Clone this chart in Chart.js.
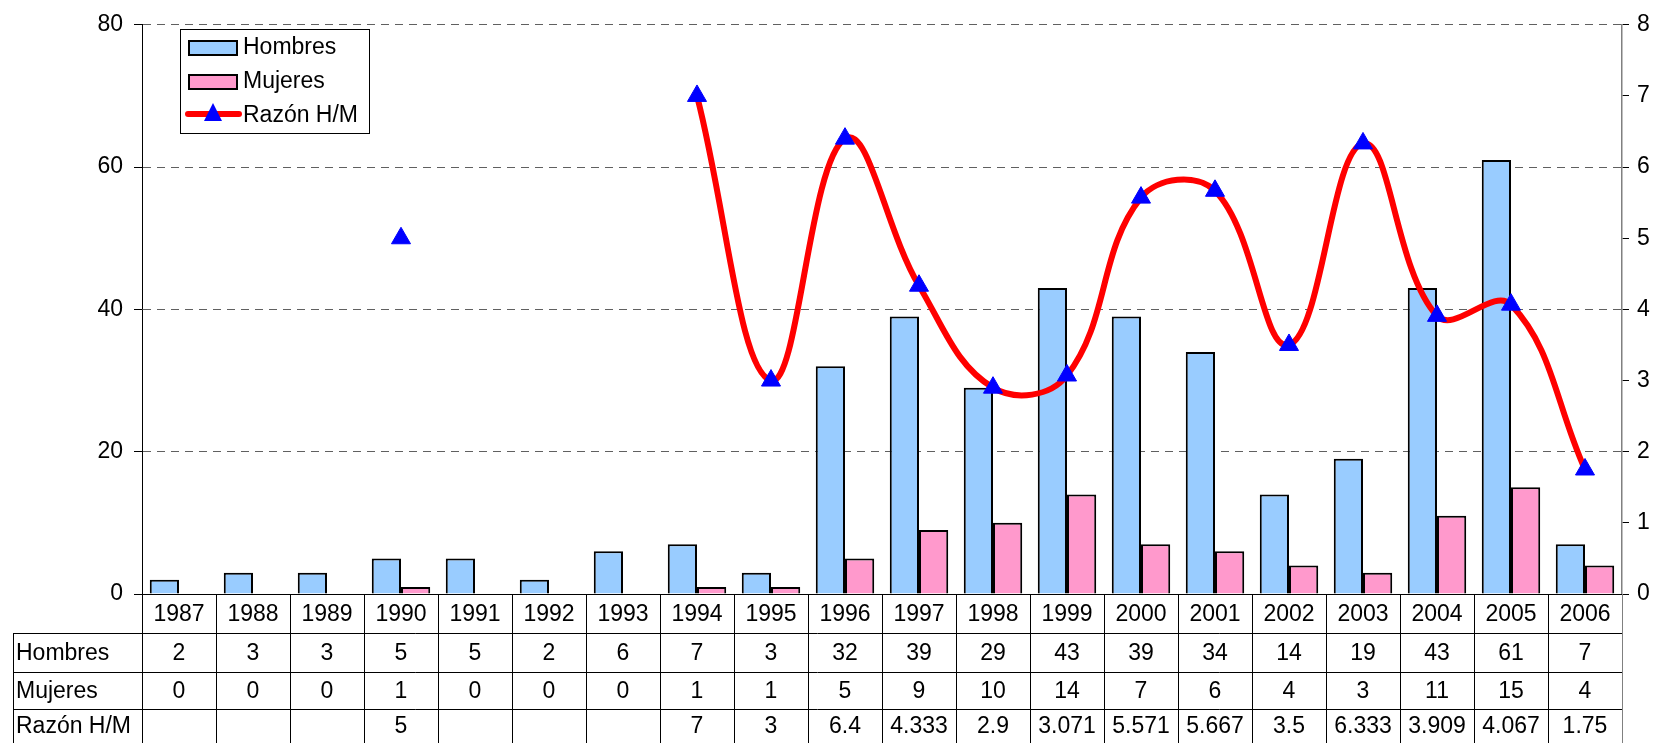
<!DOCTYPE html>
<html>
<head>
<meta charset="utf-8">
<script src="https://cdn.jsdelivr.net/npm/chart.js@4/dist/chart.umd.min.js"></script>
<style>
  html, body { margin: 0; padding: 0; background: #fff; }
  canvas { display: block; }
</style>
</head>
<body>
<canvas id="chart" width="1657" height="743"></canvas>
<script>
const years = ['1987', '1988', '1989', '1990', '1991', '1992', '1993', '1994', '1995', '1996',
  '1997', '1998', '1999', '2000', '2001', '2002', '2003', '2004', '2005', '2006'];
const hombres = [2, 3, 3, 5, 5, 2, 6, 7, 3, 32, 39, 29, 43, 39, 34, 14, 19, 43, 61, 7];
const mujeres = [0, 0, 0, 1, 0, 0, 0, 1, 1, 5, 9, 10, 14, 7, 6, 4, 3, 11, 15, 4];
const razon = [null, null, null, 5, null, null, null, 7, 3, 6.4, 4.333, 2.9, 3.071, 5.571, 5.667, 3.5, 6.333, 3.909, 4.067, 1.75];

const FONT = '"Liberation Sans", Arial, sans-serif';
const BLUE = '#99CCFF';
const PINK = '#FF99CC';

// data table under the plot + legend box
const tablePlugin = {
  id: 'table',
  afterDraw(chart) {
    const ctx = chart.ctx;
    const area = chart.chartArea;
    const x = chart.scales.x;
    const cw = (area.right - area.left) / years.length;
    const rows = [area.bottom, 633, 672, 709, 743];
    const labelLeft = 13;

    ctx.save();
    ctx.strokeStyle = '#000';
    ctx.lineWidth = 1;
    // horizontal lines
    ctx.beginPath();
    ctx.moveTo(area.left - 8, rows[0] + 0.5);
    ctx.lineTo(area.right, rows[0] + 0.5);
    for (let r = 1; r < 4; r++) {
      ctx.moveTo(labelLeft, rows[r] + 0.5);
      ctx.lineTo(area.right, rows[r] + 0.5);
    }
    // vertical lines
    for (let i = 0; i < years.length; i++) {
      const bx = Math.round(area.left + i * cw) + 0.5;
      ctx.moveTo(bx, rows[0]);
      ctx.lineTo(bx, rows[4]);
    }
    ctx.moveTo(labelLeft + 0.5, rows[1]);
    ctx.lineTo(labelLeft + 0.5, rows[4]);
    ctx.stroke();
    ctx.strokeStyle = '#808080';
    ctx.beginPath();
    ctx.moveTo(Math.round(area.right) + 0.5, rows[0]);
    ctx.lineTo(Math.round(area.right) + 0.5, rows[4]);
    ctx.stroke();

    ctx.fillStyle = '#000';
    ctx.font = '23px ' + FONT;
    ctx.textBaseline = 'middle';
    ctx.textAlign = 'left';
    const rowLabels = ['Hombres', 'Mujeres', 'Razón H/M'];
    rowLabels.forEach((t, r) => {
      ctx.fillText(t, labelLeft + 3, (rows[r + 1] + rows[r + 2]) / 2 + 1);
    });
    ctx.textAlign = 'center';
    years.forEach((yr, i) => {
      const cx = x.getPixelForValue(i);
      ctx.fillText(yr, cx, (rows[0] + rows[1]) / 2 + 1);
      ctx.fillText(String(hombres[i]), cx, (rows[1] + rows[2]) / 2 + 1);
      ctx.fillText(String(mujeres[i]), cx, (rows[2] + rows[3]) / 2 + 1);
      if (razon[i] !== null) ctx.fillText(String(razon[i]), cx, (rows[3] + rows[4]) / 2 + 1);
    });

    // legend
    const lx = 180, ly = 29, lw = 189, lh = 104;
    ctx.fillStyle = '#fff';
    ctx.fillRect(lx, ly, lw, lh);
    ctx.strokeStyle = '#000';
    ctx.lineWidth = 1;
    ctx.strokeRect(lx + 0.5, ly + 0.5, lw, lh);
    ctx.lineWidth = 2;
    ctx.fillStyle = BLUE;
    ctx.fillRect(189, 41, 48, 14);
    ctx.strokeRect(189, 41, 48, 14);
    ctx.fillStyle = PINK;
    ctx.fillRect(189, 75, 48, 14);
    ctx.strokeRect(189, 75, 48, 14);
    ctx.strokeStyle = '#FF0000';
    ctx.lineWidth = 6;
    ctx.lineCap = 'round';
    ctx.beginPath();
    ctx.moveTo(188, 114);
    ctx.lineTo(239, 114);
    ctx.stroke();
    ctx.fillStyle = '#0000FF';
    ctx.beginPath();
    ctx.moveTo(213, 103);
    ctx.lineTo(222, 121);
    ctx.lineTo(204, 121);
    ctx.closePath();
    ctx.fill();
    ctx.fillStyle = '#000';
    ctx.font = '23px ' + FONT;
    ctx.textAlign = 'left';
    ctx.fillText('Hombres', 243, 48);
    ctx.fillText('Mujeres', 243, 82);
    ctx.fillText('Razón H/M', 243, 116);
    ctx.restore();
  }
};

new Chart(document.getElementById('chart').getContext('2d'), {
  type: 'bar',
  data: {
    labels: years,
    datasets: [
      {
        type: 'line',
        label: 'Razón H/M',
        data: razon,
        yAxisID: 'y1',
        borderColor: '#FF0000',
        borderWidth: 6,
        tension: 0.4,
        spanGaps: false,
        pointStyle: 'triangle',
        pointRadius: 11,
        pointBackgroundColor: '#0000FF',
        pointBorderColor: '#0000FF',
        pointBorderWidth: 1,
        order: 0
      },
      {
        label: 'Hombres',
        data: hombres,
        backgroundColor: BLUE,
        borderColor: '#000',
        borderWidth: 2,
        categoryPercentage: 0.79,
        barPercentage: 1,
        order: 1
      },
      {
        label: 'Mujeres',
        data: mujeres,
        backgroundColor: PINK,
        borderColor: '#000',
        borderWidth: 2,
        categoryPercentage: 0.79,
        barPercentage: 1,
        order: 1
      }
    ]
  },
  options: {
    responsive: false,
    animation: false,
    layout: { padding: { left: 0, right: 0, top: 24, bottom: 149 } },
    plugins: {
      legend: { display: false },
      tooltip: { enabled: false }
    },
    scales: {
      x: {
        type: 'category',
        display: false,
        offset: true
      },
      y: {
        position: 'left',
        min: 0,
        max: 80,
        afterFit: (s) => { s.width = 142; },
        ticks: {
          stepSize: 20,
          padding: 11,
          color: '#000',
          font: { family: FONT, size: 23 }
        },
        grid: {
          color: (c) => (c.tick && c.tick.value === 0 ? 'rgba(0,0,0,0)' : '#606060'),
          lineWidth: 1,
          tickColor: '#000',
          tickLength: 8
        },
        border: { display: true, color: '#000', width: 1, dash: [8, 6] }
      },
      y1: {
        position: 'right',
        min: 0,
        max: 8,
        afterFit: (s) => { s.width = 35; },
        ticks: {
          stepSize: 1,
          padding: 8,
          color: '#000',
          font: { family: FONT, size: 23 }
        },
        grid: {
          drawOnChartArea: false,
          tickColor: '#000',
          tickLength: 7
        },
        border: { display: true, color: '#808080', width: 1.5 }
      }
    }
  },
  plugins: [tablePlugin]
});
</script>
</body>
</html>
